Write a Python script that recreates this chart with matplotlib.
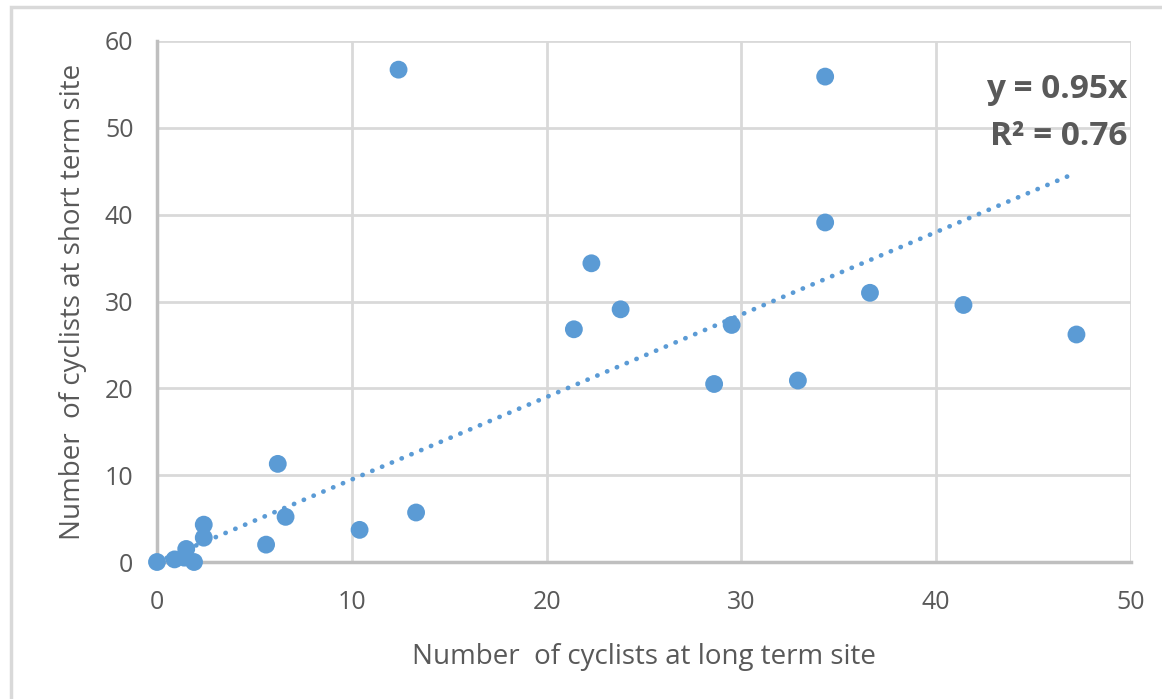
import matplotlib.pyplot as plt
from matplotlib.patches import Rectangle

# values
long_term = [0.0, 0.9, 1.4, 1.5, 1.9, 2.4, 2.4, 5.6, 6.2, 6.6, 10.4, 12.4, 13.3,
             21.4, 22.3, 23.8, 28.6, 29.5, 32.9, 34.3, 34.3, 36.6, 41.4, 47.2]
short_term = [0.0, 0.3, 0.5, 1.5, 0.0, 2.8, 4.3, 2.0, 11.3, 5.2, 3.7, 56.7, 5.7,
              26.8, 34.4, 29.1, 20.5, 27.3, 20.9, 55.9, 39.1, 31.0, 29.6, 26.2]
slope = 0.95
r_squared = 0.76
x_ticks = [0, 10, 20, 30, 40, 50]
y_ticks = [0, 10, 20, 30, 40, 50, 60]

plt.rcParams['font.family'] = ['Open Sans', 'DejaVu Sans']
blue = '#5b9bd5'
grey_text = '#595959'
grid_col = '#d9d9d9'

fig = plt.figure(figsize=(11.62, 6.99), dpi=100)
ax = fig.add_axes([157 / 1162, 1 - 562 / 699, (1131 - 157) / 1162, (562 - 41) / 699])

# outer chart frame (cropped at right and bottom)
fig.patches.append(Rectangle((11 / 1162, -0.1), 1.2, 1 - 7 / 699 + 0.1,
                             transform=fig.transFigure, fill=False,
                             edgecolor='#d9d9d9', linewidth=2.5))

# trendline through origin
trend_x = [min(long_term), max(long_term)]
trend_y = [slope * v for v in trend_x]
ax.plot(trend_x, trend_y, linestyle=(0, (0.05, 2.2)), color=blue, linewidth=3.4,
        dash_capstyle='round', zorder=2)

ax.scatter(long_term, short_term, s=165, color=blue, edgecolors='none', zorder=3,
           clip_on=False)

ax.set_xlim(0, 50)
ax.set_ylim(0, 60)
ax.set_xticks(x_ticks)
ax.set_yticks(y_ticks)
ax.grid(True, color=grid_col, linewidth=2)
ax.set_axisbelow(True)
for side in ['top', 'right']:
    ax.spines[side].set_visible(False)
for side in ['left', 'bottom']:
    ax.spines[side].set_color('#bfbfbf')
    ax.spines[side].set_linewidth(2.5)
ax.tick_params(axis='x', length=0, labelsize=18, colors=grey_text, pad=20)
ax.tick_params(axis='y', length=0, labelsize=18, colors=grey_text, pad=17)

ax.set_xlabel('Number  of cyclists at long term site', fontsize=20, color=grey_text,
              labelpad=20)
ax.set_ylabel('Number  of cyclists at short term site', fontsize=20, color=grey_text,
              labelpad=13)

ax.text(49.8, 54.4, f'y = {slope}x', fontsize=24, fontweight='bold', color=grey_text,
        ha='right', va='center')
ax.text(49.8, 49.0, f'R² = {r_squared}', fontsize=24, fontweight='bold', color=grey_text,
        ha='right', va='center')

fig.savefig('out.png', dpi=100)
